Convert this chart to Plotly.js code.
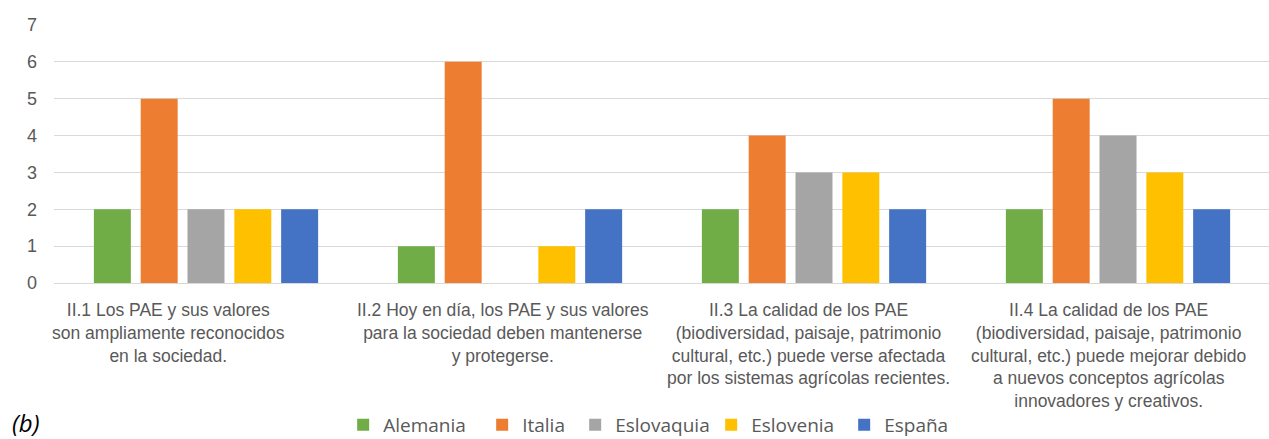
<!DOCTYPE html>
<html>
<head>
<meta charset="utf-8">
<script src="https://cdn.plot.ly/plotly-3.0.1.min.js"></script>
<style>
html,body{margin:0;padding:0;background:#fff;}
#chart{width:1269px;height:439px;}
</style>
</head>
<body>
<div id="chart"></div>
<script>
const categories = [
  "II.1 Los PAE y sus valores<br>son ampliamente reconocidos<br>en la sociedad.",
  "II.2 Hoy en día, los PAE y sus valores<br>para la sociedad deben mantenerse<br>y protegerse.",
  "II.3 La calidad de los PAE<br>(biodiversidad, paisaje, patrimonio<br>cultural, etc.) puede verse afectada<br>por los sistemas agrícolas recientes.",
  "II.4 La calidad de los PAE<br>(biodiversidad, paisaje, patrimonio<br>cultural, etc.) puede mejorar debido<br>a nuevos conceptos agrícolas<br>innovadores y creativos."
];
const seriesNames = ["Alemania", "Italia", "Eslovaquia", "Eslovenia", "España"];
const alemania   = [2, 1, 2, 2];
const italia     = [5, 6, 4, 5];
const eslovaquia = [2, 0, 3, 4];
const eslovenia  = [2, 1, 3, 3];
const espana     = [2, 2, 2, 2];
const yTicks = [0, 1, 2, 3, 4, 5, 6, 7];

const colors = ["#70AD47", "#ED7D31", "#A5A5A5", "#FFC000", "#4472C4"];
const legendWidths = [94, 48, 91, 88, 70];
const labelShifts = [-38, -7, -6, -10];
const values = [alemania, italia, eslovaquia, eslovenia, espana];
const xIdx = categories.map((c, i) => i);

const traces = values.map((v, i) => ({
  type: "bar",
  name: seriesNames[i],
  x: xIdx,
  y: v,
  legendwidth: legendWidths[i],
  marker: {color: colors[i], line: {width: 0}},
  hoverinfo: "y"
}));

const labelFont = {family: "Liberation Sans, Arial, sans-serif", size: 17.5, color: "#595959"};

const catAnnotations = categories.map((c, i) => ({
  text: c,
  xref: "x",
  yref: "paper",
  x: i,
  y: 0,
  xanchor: "center",
  yanchor: "top",
  yshift: -15,
  xshift: labelShifts[i],
  align: "center",
  showarrow: false,
  font: labelFont
}));

const layout = {
  width: 1269,
  height: 439,
  margin: {l: 54, r: 0, t: 25, b: 155.5},
  paper_bgcolor: "#ffffff",
  plot_bgcolor: "#ffffff",
  barmode: "group",
  bargap: 0.23,
  bargroupgap: 0.21,
  font: {family: "Liberation Sans, Arial, sans-serif", color: "#595959", size: 17},
  xaxis: {
    range: [-0.5, 3.4967],
    tickmode: "array",
    tickvals: xIdx,
    ticktext: categories,
    showticklabels: false,
    showgrid: false,
    showline: true,
    linecolor: "#d9d9d9",
    linewidth: 1,
    ticks: "",
    zeroline: false
  },
  yaxis: {
    range: [0, 7],
    tickmode: "array",
    tickvals: yTicks,
    ticktext: yTicks.map(String),
    showgrid: true,
    gridcolor: "#d9d9d9",
    gridwidth: 1,
    zeroline: false,
    showline: false,
    ticks: "",
    ticklabelstandoff: 16,
    tickfont: {family: "Liberation Sans, Arial, sans-serif", size: 18, color: "#595959"}
  },
  legend: {
    orientation: "h",
    x: 0.238,
    xanchor: "left",
    yref: "container",
    y: 0.032,
    yanchor: "middle",
    font: {family: "Open Sans, sans-serif", size: 19, color: "#595959"},
    itemclick: false,
    traceorder: "normal"
  },
  annotations: catAnnotations.concat([{
    text: "(b)",
    xref: "paper",
    yref: "paper",
    x: -0.036,
    y: -0.542,
    xanchor: "left",
    yanchor: "middle",
    showarrow: false,
    font: {family: "Open Sans, sans-serif", size: 24, color: "#000000", style: "italic"}
  }]),
  showlegend: true
};

Plotly.newPlot("chart", traces, layout, {displayModeBar: false, staticPlot: true});
</script>
</body>
</html>
